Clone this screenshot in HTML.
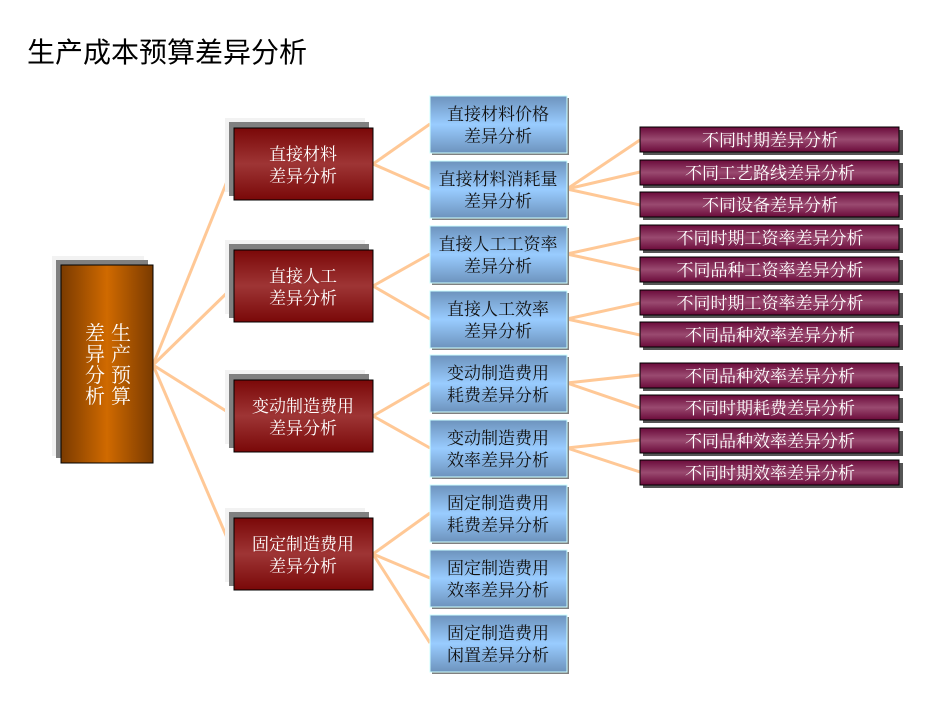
<!DOCTYPE html>
<html><head><meta charset="utf-8"><style>
html,body{margin:0;padding:0;background:#fff;}
svg{display:block;}
text{font-family:"Liberation Serif","Noto Serif CJK SC","Noto Sans CJK SC",serif;}
</style></head><body>
<svg width="945" height="716" viewBox="0 0 945 716" xmlns="http://www.w3.org/2000/svg">
<defs>
<linearGradient id="gRoot" x1="0" y1="0" x2="1" y2="0">
<stop offset="0" stop-color="#7a3a00"/><stop offset="0.5" stop-color="#d06a00"/><stop offset="1" stop-color="#7a3a00"/></linearGradient>
<linearGradient id="gRed" x1="0" y1="0" x2="0" y2="1">
<stop offset="0" stop-color="#7a0808"/><stop offset="0.5" stop-color="#9e3535"/><stop offset="1" stop-color="#7a0808"/></linearGradient>
<linearGradient id="gBlue" x1="0" y1="0" x2="0" y2="1">
<stop offset="0" stop-color="#6d93bd"/><stop offset="0.5" stop-color="#99ccff"/><stop offset="1" stop-color="#6d93bd"/></linearGradient>
<linearGradient id="gPur" x1="0" y1="0" x2="0" y2="1">
<stop offset="0" stop-color="#6a0a3a"/><stop offset="0.5" stop-color="#9a4a70"/><stop offset="1" stop-color="#6a0a3a"/></linearGradient>
</defs>
<text x="27" y="62" font-size="28" fill="#000" style="font-family:'Liberation Sans','Noto Sans CJK SC',sans-serif">生产成本预算差异分析</text>
<g stroke="#ffc896" stroke-width="3" fill="none">
<line x1="153" y1="365" x2="234" y2="164"/>
<line x1="153" y1="365" x2="234" y2="286"/>
<line x1="153" y1="365" x2="234" y2="416"/>
<line x1="153" y1="365" x2="234" y2="554"/>
<line x1="373" y1="164" x2="430" y2="124"/>
<line x1="373" y1="164" x2="430" y2="189"/>
<line x1="373" y1="286" x2="430" y2="254"/>
<line x1="373" y1="286" x2="430" y2="319"/>
<line x1="373" y1="416" x2="430" y2="383"/>
<line x1="373" y1="416" x2="430" y2="448"/>
<line x1="373" y1="554" x2="430" y2="513"/>
<line x1="373" y1="554" x2="430" y2="578"/>
<line x1="373" y1="554" x2="430" y2="643"/>
<line x1="567" y1="189" x2="640" y2="140"/>
<line x1="567" y1="189" x2="640" y2="172"/>
<line x1="567" y1="189" x2="640" y2="205"/>
<line x1="567" y1="254" x2="640" y2="238"/>
<line x1="567" y1="254" x2="640" y2="270"/>
<line x1="567" y1="319" x2="640" y2="303"/>
<line x1="567" y1="319" x2="640" y2="335"/>
<line x1="567" y1="383" x2="640" y2="375"/>
<line x1="567" y1="383" x2="640" y2="408"/>
<line x1="567" y1="448" x2="640" y2="440"/>
<line x1="567" y1="448" x2="640" y2="472"/>
</g>
<!-- root -->
<rect x="52" y="256" width="92" height="200" fill="#f2f2f2"/>
<rect x="56" y="260" width="92" height="198" fill="#808080"/>
<rect x="61" y="265" width="92" height="198" fill="url(#gRoot)" stroke="#000" stroke-width="1"/>
<g fill="#fff" font-size="20" text-anchor="middle">
<text x="121" y="340">生</text><text x="121" y="361">产</text><text x="121" y="382">预</text><text x="121" y="403">算</text>
<text x="95" y="340">差</text><text x="95" y="361">异</text><text x="95" y="382">分</text><text x="95" y="403">析</text>
</g>
<!-- level 1 -->
<g font-size="17" fill="#fff" text-anchor="middle">
<rect x="225" y="118" width="140" height="74" fill="#f2f2f2"/><rect x="229" y="122" width="140" height="74" fill="#808080"/>
<rect x="234" y="128" width="139" height="72" fill="url(#gRed)" stroke="#000"/>
<text x="303" y="160">直接材料</text><text x="303" y="182">差异分析</text>
<rect x="225" y="240" width="140" height="74" fill="#f2f2f2"/><rect x="229" y="244" width="140" height="74" fill="#808080"/>
<rect x="234" y="250" width="139" height="72" fill="url(#gRed)" stroke="#000"/>
<text x="303" y="282">直接人工</text><text x="303" y="304">差异分析</text>
<rect x="225" y="370" width="140" height="74" fill="#f2f2f2"/><rect x="229" y="374" width="140" height="74" fill="#808080"/>
<rect x="234" y="380" width="139" height="72" fill="url(#gRed)" stroke="#000"/>
<text x="303" y="412">变动制造费用</text><text x="303" y="434">差异分析</text>
<rect x="225" y="508" width="140" height="74" fill="#f2f2f2"/><rect x="229" y="512" width="140" height="74" fill="#808080"/>
<rect x="234" y="518" width="139" height="72" fill="url(#gRed)" stroke="#000"/>
<text x="303" y="550">固定制造费用</text><text x="303" y="572">差异分析</text>
</g>
<!-- level 2 -->
<g font-size="17" fill="#111" text-anchor="middle">
<g transform="translate(0,96)"><rect x="432" y="2" width="137" height="57" fill="#808080"/><rect x="430" y="0" width="137" height="57" fill="url(#gBlue)" stroke="#cff"/><text x="498" y="24">直接材料价格</text><text x="498" y="46">差异分析</text></g>
<g transform="translate(0,161)"><rect x="432" y="2" width="137" height="57" fill="#808080"/><rect x="430" y="0" width="137" height="57" fill="url(#gBlue)" stroke="#cff"/><text x="498" y="24">直接材料消耗量</text><text x="498" y="46">差异分析</text></g>
<g transform="translate(0,226)"><rect x="432" y="2" width="137" height="57" fill="#808080"/><rect x="430" y="0" width="137" height="57" fill="url(#gBlue)" stroke="#cff"/><text x="498" y="24">直接人工工资率</text><text x="498" y="46">差异分析</text></g>
<g transform="translate(0,291)"><rect x="432" y="2" width="137" height="57" fill="#808080"/><rect x="430" y="0" width="137" height="57" fill="url(#gBlue)" stroke="#cff"/><text x="498" y="24">直接人工效率</text><text x="498" y="46">差异分析</text></g>
<g transform="translate(0,355)"><rect x="432" y="2" width="137" height="57" fill="#808080"/><rect x="430" y="0" width="137" height="57" fill="url(#gBlue)" stroke="#cff"/><text x="498" y="24">变动制造费用</text><text x="498" y="46">耗费差异分析</text></g>
<g transform="translate(0,420)"><rect x="432" y="2" width="137" height="57" fill="#808080"/><rect x="430" y="0" width="137" height="57" fill="url(#gBlue)" stroke="#cff"/><text x="498" y="24">变动制造费用</text><text x="498" y="46">效率差异分析</text></g>
<g transform="translate(0,485)"><rect x="432" y="2" width="137" height="57" fill="#808080"/><rect x="430" y="0" width="137" height="57" fill="url(#gBlue)" stroke="#cff"/><text x="498" y="24">固定制造费用</text><text x="498" y="46">耗费差异分析</text></g>
<g transform="translate(0,550)"><rect x="432" y="2" width="137" height="57" fill="#808080"/><rect x="430" y="0" width="137" height="57" fill="url(#gBlue)" stroke="#cff"/><text x="498" y="24">固定制造费用</text><text x="498" y="46">效率差异分析</text></g>
<g transform="translate(0,615)"><rect x="432" y="2" width="137" height="57" fill="#808080"/><rect x="430" y="0" width="137" height="57" fill="url(#gBlue)" stroke="#cff"/><text x="498" y="24">固定制造费用</text><text x="498" y="46">闲置差异分析</text></g>
</g>
<!-- level 3 -->
<g font-size="17" fill="#fff" text-anchor="middle">
<g transform="translate(0,127)"><rect x="643" y="3" width="260" height="25" fill="#555"/><rect x="640" y="0" width="259" height="25" fill="url(#gPur)" stroke="#000"/><text x="770" y="19">不同时期差异分析</text></g>
<g transform="translate(0,160)"><rect x="643" y="3" width="260" height="25" fill="#555"/><rect x="640" y="0" width="259" height="25" fill="url(#gPur)" stroke="#000"/><text x="770" y="19">不同工艺路线差异分析</text></g>
<g transform="translate(0,192)"><rect x="643" y="3" width="260" height="25" fill="#555"/><rect x="640" y="0" width="259" height="25" fill="url(#gPur)" stroke="#000"/><text x="770" y="19">不同设备差异分析</text></g>
<g transform="translate(0,225)"><rect x="643" y="3" width="260" height="25" fill="#555"/><rect x="640" y="0" width="259" height="25" fill="url(#gPur)" stroke="#000"/><text x="770" y="19">不同时期工资率差异分析</text></g>
<g transform="translate(0,257)"><rect x="643" y="3" width="260" height="25" fill="#555"/><rect x="640" y="0" width="259" height="25" fill="url(#gPur)" stroke="#000"/><text x="770" y="19">不同品种工资率差异分析</text></g>
<g transform="translate(0,290)"><rect x="643" y="3" width="260" height="25" fill="#555"/><rect x="640" y="0" width="259" height="25" fill="url(#gPur)" stroke="#000"/><text x="770" y="19">不同时期工资率差异分析</text></g>
<g transform="translate(0,322)"><rect x="643" y="3" width="260" height="25" fill="#555"/><rect x="640" y="0" width="259" height="25" fill="url(#gPur)" stroke="#000"/><text x="770" y="19">不同品种效率差异分析</text></g>
<g transform="translate(0,363)"><rect x="643" y="3" width="260" height="25" fill="#555"/><rect x="640" y="0" width="259" height="25" fill="url(#gPur)" stroke="#000"/><text x="770" y="19">不同品种效率差异分析</text></g>
<g transform="translate(0,395)"><rect x="643" y="3" width="260" height="25" fill="#555"/><rect x="640" y="0" width="259" height="25" fill="url(#gPur)" stroke="#000"/><text x="770" y="19">不同时期耗费差异分析</text></g>
<g transform="translate(0,428)"><rect x="643" y="3" width="260" height="25" fill="#555"/><rect x="640" y="0" width="259" height="25" fill="url(#gPur)" stroke="#000"/><text x="770" y="19">不同品种效率差异分析</text></g>
<g transform="translate(0,460)"><rect x="643" y="3" width="260" height="25" fill="#555"/><rect x="640" y="0" width="259" height="25" fill="url(#gPur)" stroke="#000"/><text x="770" y="19">不同时期效率差异分析</text></g>
</g>
</svg>
</body></html>
